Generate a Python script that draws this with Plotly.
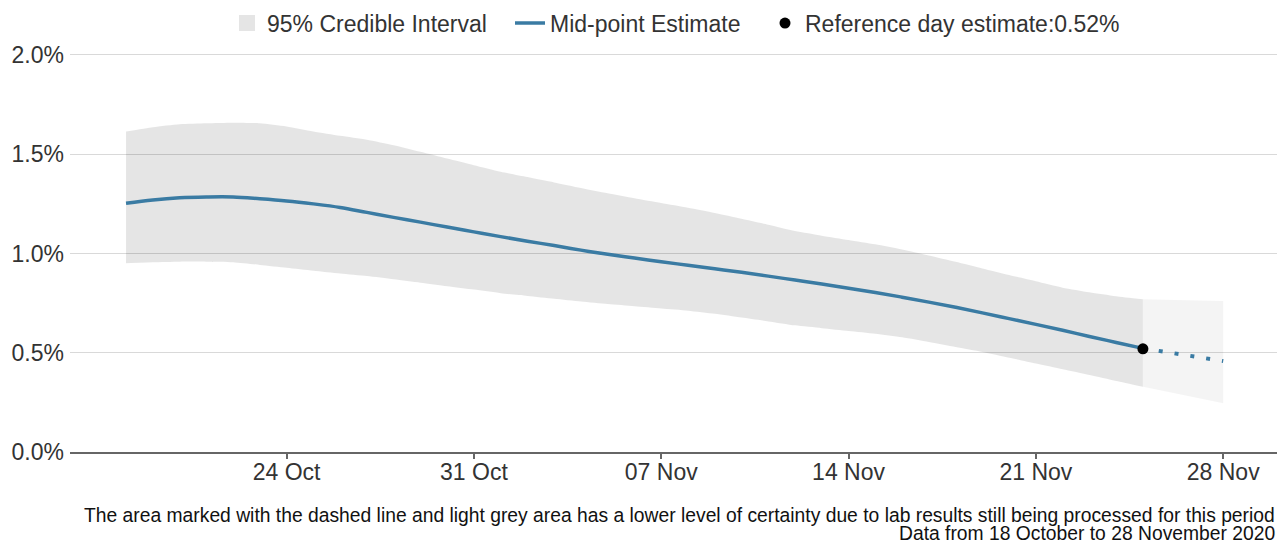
import pandas as pd
import plotly.graph_objects as go

# ---- data (percent) ----
dates = pd.date_range("2020-10-18", "2020-11-28", freq="D")

mid = [1.253, 1.270, 1.281, 1.285, 1.285, 1.276, 1.265, 1.250, 1.232, 1.207,
       1.182, 1.158, 1.133, 1.109, 1.085, 1.062, 1.040, 1.017, 0.996, 0.977,
       0.958, 0.941, 0.923, 0.905, 0.886, 0.866, 0.846, 0.825, 0.803, 0.780,
       0.755, 0.729, 0.701, 0.672, 0.643, 0.613, 0.582, 0.552, 0.522, 0.500,
       0.479, 0.458]

upper = [1.614, 1.636, 1.651, 1.656, 1.659, 1.656, 1.640, 1.615, 1.593, 1.573,
         1.545, 1.512, 1.478, 1.445, 1.412, 1.385, 1.358, 1.330, 1.303, 1.278,
         1.254, 1.230, 1.204, 1.175, 1.145, 1.113, 1.090, 1.068, 1.046, 1.020,
         0.990, 0.958, 0.925, 0.892, 0.860, 0.828, 0.805, 0.785, 0.769, 0.766,
         0.764, 0.761]

lower = [0.951, 0.956, 0.959, 0.959, 0.956, 0.942, 0.928, 0.913, 0.899, 0.886,
         0.870, 0.853, 0.835, 0.818, 0.800, 0.786, 0.772, 0.758, 0.745, 0.734,
         0.723, 0.712, 0.696, 0.677, 0.658, 0.638, 0.624, 0.610, 0.596, 0.578,
         0.554, 0.529, 0.504, 0.475, 0.446, 0.417, 0.388, 0.358, 0.329, 0.301,
         0.273, 0.245]

reference_day = "2020-11-25"
reference_value = 0.52

x_tick_vals = ["2020-10-24", "2020-10-31", "2020-11-07", "2020-11-14",
               "2020-11-21", "2020-11-28"]
x_tick_text = ["24 Oct", "31 Oct", "07 Nov", "14 Nov", "21 Nov", "28 Nov"]
y_tick_vals = [0.0, 0.5, 1.0, 1.5, 2.0]
y_tick_text = ["0.0%", "0.5%", "1.0%", "1.5%", "2.0%"]

ci_name = "95% Credible Interval"
mid_name = "Mid-point Estimate"
ref_name = "Reference day estimate:0.52%"
footer_1 = ("The area marked with the dashed line and light grey area has a lower "
            "level of certainty due to lab results still being processed for this period")
footer_2 = "Data from 18 October to 28 November 2020"

# ---- split into certain / uncertain periods ----
ref_idx = list(dates.strftime("%Y-%m-%d")).index(reference_day)
d_main, d_tail = dates[:ref_idx + 1], dates[ref_idx:]

LINE = "#3a7ba3"
FONT = "Liberation Sans, Arial, sans-serif"
TXT = "#333333"
FS = 23

fig = go.Figure()
# main credible band
fig.add_trace(go.Scatter(x=d_main, y=upper[:ref_idx + 1], mode="lines",
                         line=dict(width=0, shape="spline", smoothing=0.6),
                         showlegend=False, hoverinfo="skip"))
fig.add_trace(go.Scatter(x=d_main, y=lower[:ref_idx + 1], mode="lines",
                         line=dict(width=0, shape="spline", smoothing=0.6),
                         fill="tonexty", fillcolor="rgba(0,0,0,0.102)",
                         showlegend=False, hoverinfo="skip"))
# uncertain-period band
fig.add_trace(go.Scatter(x=d_tail, y=upper[ref_idx:], mode="lines",
                         line=dict(width=0), showlegend=False, hoverinfo="skip"))
fig.add_trace(go.Scatter(x=d_tail, y=lower[ref_idx:], mode="lines",
                         line=dict(width=0), fill="tonexty",
                         fillcolor="rgba(0,0,0,0.043)", showlegend=False,
                         hoverinfo="skip"))
# legend swatch for band
fig.add_trace(go.Scatter(x=[None], y=[None], mode="markers", name=ci_name,
                         legend="legend",
                         marker=dict(symbol="square", size=20, color="#e5e5e5")))
# mid-point line
fig.add_trace(go.Scatter(x=d_main, y=mid[:ref_idx + 1], mode="lines", name=mid_name,
                         legend="legend2",
                         line=dict(color=LINE, width=3.5, shape="spline",
                                   smoothing=1)))
fig.add_trace(go.Scatter(x=d_tail, y=mid[ref_idx:], mode="lines", showlegend=False,
                         line=dict(color=LINE, width=4, dash="4px,12px")))
# reference day
fig.add_trace(go.Scatter(x=[reference_day], y=[reference_value], mode="markers",
                         name=ref_name, legend="legend3",
                         marker=dict(color="black", size=11)))

leg_common = dict(orientation="h", xref="paper", xanchor="left",
                  yref="paper", y=1.075, yanchor="middle",
                  font=dict(size=FS, color=TXT),
                  bgcolor="rgba(0,0,0,0)", borderwidth=0)

L, W = 70, 1207  # plot-area left edge and width (px)
fig.update_layout(
    width=1277, height=543,
    margin=dict(l=L, r=0, t=53, b=91, autoexpand=False),
    paper_bgcolor="white", plot_bgcolor="white",
    font=dict(family=FONT, size=FS, color=TXT),
    showlegend=True,
    legend=dict(x=(227 - L) / W, **leg_common),
    legend2=dict(x=(510 - L) / W, **leg_common),
    legend3=dict(x=(765 - L) / W, **leg_common),
    xaxis=dict(type="date", range=["2020-10-15 21:45", "2020-11-30 00:15"],
               tickvals=x_tick_vals, ticktext=x_tick_text,
               showgrid=False, showline=True, linecolor="#666666", linewidth=1.5,
               ticks="outside", ticklen=5, tickcolor="#666666", tickwidth=1.5,
               ticklabelstandoff=-6,
               tickfont=dict(size=FS, color=TXT), zeroline=False),
    yaxis=dict(range=[0, 2.01], tickvals=y_tick_vals, ticktext=y_tick_text,
               showgrid=True, gridcolor="#d9d9d9", gridwidth=1, zeroline=False,
               showline=False, ticks="", ticklabelstandoff=5,
               tickfont=dict(size=FS, color=TXT)),
    annotations=[
        dict(text=footer_1, xref="paper", yref="paper", x=1, y=-0.158,
             xanchor="right", yanchor="middle", showarrow=False,
             font=dict(size=19.3, color="#111111")),
        dict(text=footer_2, xref="paper", yref="paper", x=1, y=-0.205,
             xanchor="right", yanchor="middle", showarrow=False,
             font=dict(size=19.3, color="#111111")),
    ],
)

fig.write_html("out.html", config={"displayModeBar": False},
               post_script="document.body.style.margin='0px';")
